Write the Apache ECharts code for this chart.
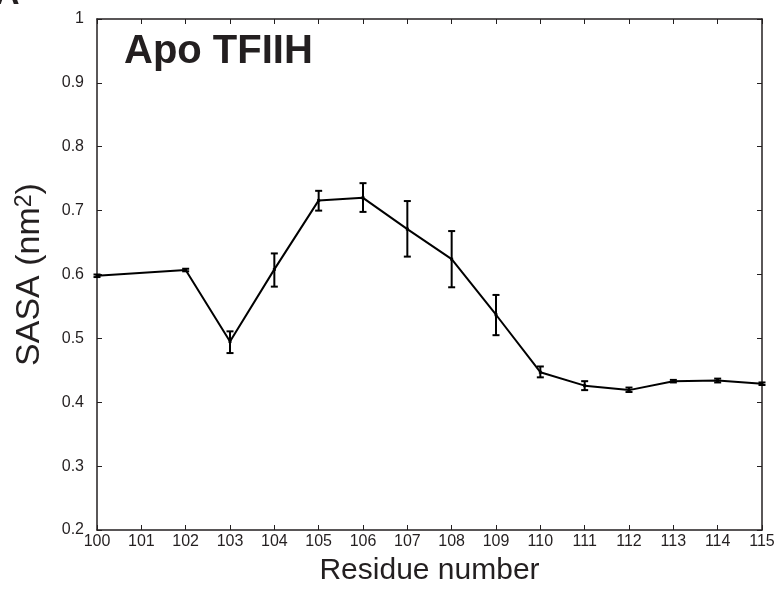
<!DOCTYPE html>
<html>
<head>
<meta charset="utf-8">
<script src="https://cdn.jsdelivr.net/npm/echarts@6/dist/echarts.min.js"></script>
<style>
  html, body { margin: 0; padding: 0; background: #fff; }
  #chart { width: 781px; height: 591px; }
</style>
</head>
<body>
<div id="chart"></div>
<script>
var residues = [100, 102, 103, 104, 105, 106, 107, 108, 109, 110, 111, 112, 113, 114, 115];
var sasa     = [0.598, 0.607, 0.495, 0.608, 0.716, 0.720, 0.671, 0.624, 0.537, 0.447, 0.426, 0.419, 0.433, 0.434, 0.429];
var errLow   = [0.596, 0.605, 0.477, 0.581, 0.700, 0.698, 0.628, 0.580, 0.505, 0.439, 0.419, 0.416, 0.431, 0.431, 0.427];
var errHigh  = [0.600, 0.609, 0.511, 0.633, 0.731, 0.743, 0.715, 0.668, 0.568, 0.456, 0.433, 0.423, 0.435, 0.437, 0.431];

var textColor = '#231f20';
var fontFam = '"Liberation Sans", Arial, sans-serif';
var chart = echarts.init(document.getElementById('chart'));

var lineData = residues.map(function (r, i) { return [r, sasa[i]]; });
var errData = residues.map(function (r, i) { return [r, errLow[i], errHigh[i]]; });

var option = {
  animation: false,
  grid: { left: 97, right: 19, top: 19, bottom: 58 },
  graphic: [
    {
      type: 'text', left: -5, top: -22,
      style: { text: 'A', font: 'bold 34px ' + fontFam, fill: textColor }
    },
    {
      type: 'text', left: 124, top: 32,
      style: { text: 'Apo TFIIH', font: 'bold 40px ' + fontFam, fill: textColor }
    }
  ],
  xAxis: [
    {
      type: 'value', min: 100, max: 115, interval: 1,
      name: 'Residue number', nameLocation: 'middle', nameGap: 26,
      nameTextStyle: { fontSize: 30, color: textColor, fontFamily: fontFam },
      axisLine: { lineStyle: { color: textColor, width: 1.5 } },
      axisTick: { inside: true, length: 5, lineStyle: { color: textColor } },
      axisLabel: { fontSize: 16, color: textColor, margin: 4, fontFamily: fontFam },
      splitLine: { show: false }
    },
    {
      type: 'value', min: 100, max: 115, interval: 1, position: 'top',
      axisLine: { lineStyle: { color: textColor, width: 1.5 } },
      axisTick: { inside: true, length: 5, lineStyle: { color: textColor } },
      axisLabel: { show: false },
      splitLine: { show: false }
    }
  ],
  yAxis: [
    {
      type: 'value', min: 0.2, max: 1, interval: 0.1,
      name: 'SASA (nm{sup|2})', nameLocation: 'middle', nameGap: 50, nameRotate: 90,
      nameTextStyle: {
        fontSize: 34, color: textColor, fontFamily: fontFam,
        rich: {
          sup: { fontSize: 23, color: textColor, fontFamily: fontFam, verticalAlign: 'top', padding: [0, 0, 10, 0] }
        }
      },
      axisLine: { lineStyle: { color: textColor, width: 1.5 } },
      axisTick: { inside: true, length: 5, lineStyle: { color: textColor } },
      axisLabel: {
        fontSize: 16, color: textColor, margin: 13, fontFamily: fontFam,
        formatter: function (v) { return String(Math.round(v * 10) / 10); }
      },
      splitLine: { show: false }
    },
    {
      type: 'value', min: 0.2, max: 1, interval: 0.1, position: 'right',
      axisLine: { lineStyle: { color: textColor, width: 1.5 } },
      axisTick: { inside: true, length: 5, lineStyle: { color: textColor } },
      axisLabel: { show: false },
      splitLine: { show: false }
    }
  ],
  series: [
    {
      type: 'line',
      data: lineData,
      symbol: 'rect', symbolSize: 3,
      itemStyle: { color: '#000' },
      lineStyle: { color: '#000', width: 2 }
    },
    {
      type: 'custom',
      data: errData,
      renderItem: function (params, api) {
        var x = api.value(0);
        var lo = api.coord([x, api.value(1)]);
        var hi = api.coord([x, api.value(2)]);
        var cap = 3.5;
        var st = { stroke: '#000', lineWidth: 2 };
        return {
          type: 'group',
          children: [
            { type: 'line', shape: { x1: lo[0], y1: lo[1], x2: hi[0], y2: hi[1] }, style: st },
            { type: 'line', shape: { x1: lo[0] - cap, y1: lo[1], x2: lo[0] + cap, y2: lo[1] }, style: st },
            { type: 'line', shape: { x1: hi[0] - cap, y1: hi[1], x2: hi[0] + cap, y2: hi[1] }, style: st }
          ]
        };
      }
    }
  ]
};
chart.setOption(option);
</script>
</body>
</html>
